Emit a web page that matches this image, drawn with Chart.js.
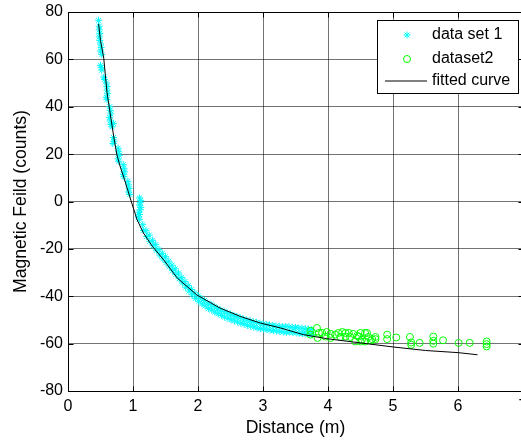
<!DOCTYPE html>
<html><head><meta charset="utf-8">
<script src="https://cdn.jsdelivr.net/npm/chart.js@4/dist/chart.umd.min.js"></script>
<style>
html,body{margin:0;padding:0;background:#fff;overflow:hidden;}
#wrap{position:relative;width:530px;height:441px;}
</style></head><body>
<div id="wrap"><canvas id="c"></canvas></div>
<script>
const xTicks=[0,1,2,3,4,5,6,7];
const yTicks=[-80,-60,-40,-20,0,20,40,60,80];
const seriesNames=['data set 1','dataset2','fitted curve'];
const xTitle='Distance (m)';
const yTitle='Magnetic Feild (counts)';

const set1X=[0.47,0.48,0.48,0.49,0.48,0.49,0.5,0.51,0.5,0.52,0.5,0.51,0.52,0.55,0.56,0.59,0.6,0.6,0.61,0.59,0.6,0.64,0.65,0.66,0.64,0.65,0.66,0.7,0.68,0.7,0.71,0.69,0.77,0.78,0.79,0.77,0.78,0.85,0.86,0.87,0.85,0.86,0.92,0.93,0.94,0.93,0.95,1.1,1.12,1.11,1.1,1.12,1.11,1.09,1.1,1.08,1.1,
1.15,1.16,1.2,1.21,1.25,1.26,1.3,1.31,1.35,1.36,1.4,1.41,1.45,1.46,1.5,1.51,1.55,1.56,1.6,1.61,1.65,1.66,1.7,1.71,1.75,1.76,1.8,1.81,1.85,1.86,1.9,1.91,1.95,1.96,
2.0,2.01,2.05,2.06,2.1,2.11,2.15,2.16,2.2,2.21,2.25,2.26,2.3,2.31,2.35,2.36,2.4,2.41,2.45,2.46,2.5,2.51,2.55,2.56,2.6,2.61,2.65,2.66,2.7,2.71,2.75,2.76,2.8,2.81,2.85,2.86,2.9,2.91,2.95,2.96,
3.0,3.01,3.05,3.06,3.1,3.11,3.15,3.16,3.2,3.21,3.25,3.26,3.3,3.31,3.35,3.36,3.4,3.41,3.45,3.46,3.5,3.51,3.55,3.56,3.6,3.61,3.65,3.66,3.7,3.71,3.75,3.76];
const set1Y=[76.5,74,72.5,71,69.5,68,66.5,65,63.5,62,57.5,56.5,55.5,52.5,51.5,50,48.5,47,45.5,44,43,40,38.5,37,35.5,34,32.5,33,31.5,27,25.5,24.5,22.5,21,19.5,18,17,15.5,14,12.5,11.5,10.5,8.5,7,5.5,4,3,1.5,0.5,-0.5,-1.5,-2.5,-3.5,-4.5,-5.5,-6.5,-7.5,
-9.8,-12.2,-12.3,-14.8,-14.2,-16.8,-16.4,-18.7,-18.2,-20.6,-20.3,-22.6,-21.9,-24.2,-23.3,-25.8,-25.2,-27.6,-26.9,-29.2,-28.4,-30.8,-30.2,-32.6,-32.1,-34.4,-33.8,-36.2,-35.5,-37.8,-37.1,-39.4,-38.6,-40.9,
-39.8,-42.1,-40.9,-43.2,-41.8,-44.1,-42.9,-45.2,-43.5,-45.8,-44.3,-46.7,-45.2,-47.4,-45.8,-48.1,-46.5,-48.8,-47.1,-49.3,-47.6,-49.9,-48.2,-50.4,-48.6,-50.9,-49.1,-51.4,-49.6,-51.8,-50.0,-52.3,-50.4,-52.6,-50.8,-53.0,-51.1,-53.4,-51.4,-53.6,
-51.7,-53.9,-51.9,-54.1,-52.1,-54.3,-52.3,-54.5,-52.5,-54.7,-52.7,-54.9,-52.9,-55.1,-52.8,-55.2,-52.9,-55.1,-53.1,-55.3,-53.2,-55.5,-53.4,-55.6,-53.5,-55.7,-53.7,-55.9,-53.9,-56.1,-54.1,-56.3];

const set2X=[3.73,3.73,3.83,3.84,3.86,3.91,3.96,3.98,4.04,4.04,4.11,4.16,4.19,4.22,4.27,4.27,4.32,4.34,4.39,4.42,4.45,4.47,4.5,4.5,4.52,4.57,4.57,4.6,4.62,4.66,4.68,4.73,4.73,4.91,4.91,5.05,5.26,5.28,5.28,5.41,5.62,5.62,5.62,5.77,6.01,6.18,6.44,6.44,6.44];
const set2Y=[-54.6,-56.2,-53.4,-57.6,-55.5,-55.5,-57,-55.1,-55.9,-57.6,-56.2,-55.5,-57.2,-55.1,-55.5,-57,-55.5,-57.2,-55.9,-59.1,-56.7,-57,-55.5,-59.1,-58.4,-55.5,-59.1,-55.5,-57.2,-58.7,-58.1,-57.2,-58.1,-56.2,-58.1,-57.4,-57.2,-59.5,-60.5,-59.7,-57,-58.8,-60,-58.6,-59.7,-59.7,-59.1,-60.2,-61.2];

const fitX=[0.47,0.5,0.55,0.6,0.65,0.7,0.75,0.8,0.87,0.97,1.06,1.16,1.3,1.47,1.68,1.98,2.34,2.65,2.96,3.27,3.62,3.98,4.5,5.0,5.5,6.0,6.3];
const fitY=[75,68,60.5,46,37,28,20,15,9.2,0.3,-7.5,-13.3,-19,-24.6,-32.3,-39.4,-45,-48.5,-51.3,-53.4,-56.2,-57.9,-59.7,-61.4,-62.9,-63.8,-64.7];

const FONT='"Liberation Sans", Arial, sans-serif';
const zip=(xs,ys)=>xs.map((x,i)=>({x:x,y:ys[i]}));

const boxPlugin={
  id:'boxPlugin',
  afterDraw(chart){
    const ctx=chart.ctx, a=chart.chartArea;
    const xs=chart.scales.x, ys=chart.scales.y;
    ctx.save();
    ctx.strokeStyle='#000'; ctx.lineWidth=1;
    const L=Math.round(a.left)+0.5, R=Math.round(a.right)+0.5, T=Math.round(a.top)+0.5, B=Math.round(a.bottom)+0.5;
    ctx.beginPath();
    ctx.rect(L,T,R-L,B-T);
    xTicks.forEach(v=>{const p=Math.round(xs.getPixelForValue(v))+0.5;
      ctx.moveTo(p,B);ctx.lineTo(p,B-5);ctx.moveTo(p,T);ctx.lineTo(p,T+5);});
    yTicks.forEach(v=>{const p=Math.round(ys.getPixelForValue(v))+0.5;
      ctx.moveTo(L,p);ctx.lineTo(L+5,p);ctx.moveTo(R,p);ctx.lineTo(R-5,p);});
    ctx.stroke();
    // legend
    const lx=377, ly=20, lw=141, lh=73;
    ctx.fillStyle='#fff';
    ctx.fillRect(lx,ly,lw,lh);
    ctx.strokeRect(lx+0.5,ly+0.5,lw,lh);
    const rows=[35,59,81];
    ctx.lineWidth=1;
    ctx.strokeStyle='#00FFFF';
    Chart.helpers.drawPoint(ctx,{pointStyle:'star',radius:3.5,borderWidth:1},407,rows[0]);
    ctx.strokeStyle='#00FF00';
    ctx.fillStyle='rgba(0,0,0,0)';
    Chart.helpers.drawPoint(ctx,{pointStyle:'circle',radius:3.5,borderWidth:1},407,rows[1]);
    ctx.strokeStyle='#000';
    ctx.beginPath();ctx.moveTo(385,rows[2]);ctx.lineTo(427,rows[2]);ctx.stroke();
    ctx.fillStyle='#000';
    ctx.font='16px '+FONT;
    ctx.textBaseline='middle';
    ctx.textAlign='left';
    seriesNames.forEach((n,i)=>ctx.fillText(n,432,rows[i]));
    ctx.restore();
  }
};

new Chart(document.getElementById('c'),{
  type:'scatter',
  data:{datasets:[
    {label:seriesNames[2],type:'line',data:zip(fitX,fitY),borderColor:'#000',borderWidth:1,pointRadius:0,fill:false,tension:0,order:0},
    {label:seriesNames[1],data:zip(set2X,set2Y),pointStyle:'circle',pointRadius:3.5,borderColor:'#00FF00',backgroundColor:'rgba(0,0,0,0)',pointBorderWidth:1,order:1},
    {label:seriesNames[0],data:zip(set1X,set1Y),pointStyle:'star',pointRadius:3.5,borderColor:'#00FFFF',backgroundColor:'#00FFFF',pointBorderWidth:1,order:2}
  ]},
  options:{
    animation:false,responsive:true,maintainAspectRatio:false,devicePixelRatio:1,
    layout:{padding:{left:0,top:12,right:7,bottom:0}},
    plugins:{legend:{display:false},tooltip:{enabled:false}},
    scales:{
      x:{type:'linear',min:0,max:7,
        afterBuildTicks:s=>{s.ticks=xTicks.map(v=>({value:v}));},
        afterFit:s=>{s.height=50;s.paddingLeft=0;s.paddingRight=0;},
        ticks:{color:'#000',font:{family:FONT,size:16},padding:6,maxRotation:0},
        grid:{color:'rgba(0,0,0,0.55)',lineWidth:1,drawTicks:false},
        border:{display:true,color:'#000'},
        title:{display:true,text:xTitle,color:'#000',font:{family:FONT,size:17.6},padding:{top:0,bottom:2}}
      },
      y:{type:'linear',min:-80,max:80,
        afterBuildTicks:s=>{s.ticks=yTicks.map(v=>({value:v}));},
        afterFit:s=>{s.width=68;s.paddingTop=0;s.paddingBottom=0;},
        ticks:{color:'#000',font:{family:FONT,size:16},padding:5},
        grid:{color:'rgba(0,0,0,0.55)',lineWidth:1,drawTicks:false},
        border:{display:true,color:'#000'},
        title:{display:true,text:yTitle,color:'#000',font:{family:FONT,size:17.6},padding:{top:11,bottom:0}}
      }
    }
  },
  plugins:[boxPlugin]
});
</script>
</body></html>
